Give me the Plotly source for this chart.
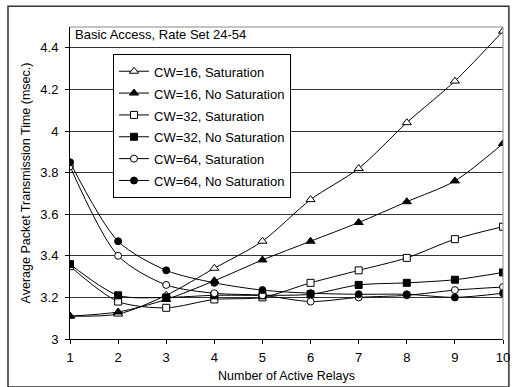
import plotly.graph_objects as go

relays = [1, 2, 3, 4, 5, 6, 7, 8, 9, 10]

cw16_sat = [3.11, 3.12, 3.21, 3.34, 3.47, 3.67, 3.82, 4.04, 4.24, 4.48]
cw16_nosat = [3.11, 3.13, 3.19, 3.28, 3.38, 3.47, 3.56, 3.66, 3.76, 3.94]
cw32_sat = [3.35, 3.18, 3.15, 3.19, 3.20, 3.27, 3.33, 3.39, 3.48, 3.54]
cw32_nosat = [3.36, 3.21, 3.20, 3.21, 3.21, 3.215, 3.26, 3.27, 3.285, 3.32]
cw64_sat = [3.83, 3.40, 3.26, 3.22, 3.21, 3.18, 3.20, 3.21, 3.235, 3.25]
cw64_nosat = [3.85, 3.47, 3.33, 3.27, 3.235, 3.22, 3.215, 3.215, 3.20, 3.22]

series = [
    ("CW=16, Saturation", cw16_sat, "triangle-up-open"),
    ("CW=16, No Saturation", cw16_nosat, "triangle-up"),
    ("CW=32, Saturation", cw32_sat, "square-open"),
    ("CW=32, No Saturation", cw32_nosat, "square"),
    ("CW=64, Saturation", cw64_sat, "circle-open"),
    ("CW=64, No Saturation", cw64_nosat, "circle"),
]

y_ticks = [3, 3.2, 3.4, 3.6, 3.8, 4, 4.2, 4.4]
y_tick_text = ["3", "3.2", "3.4", "3.6", "3.8", "4", "4.2", "4.4"]

FONT = "Liberation Sans, Arial, sans-serif"

fig = go.Figure()
for name, vals, sym in series:
    is_open = sym.endswith("-open")
    fig.add_trace(go.Scatter(
        x=relays, y=vals, name='<span style="font-size:13px">' + name + '</span>',
        mode="lines+markers",
        line=dict(color="black", width=1, shape="spline", smoothing=0.8),
        marker=dict(
            symbol=sym.replace("-open", "") if is_open else sym,
            size=8 if "triangle" in sym else 7,
            color="white" if is_open else "black",
            line=dict(color="black", width=1),
        ),
    ))

fig.update_layout(
    width=517, height=387,
    margin=dict(l=70, r=7, t=27, b=48),
    paper_bgcolor="white", plot_bgcolor="white",
    font=dict(family=FONT, size=13, color="black"),
    showlegend=True,
    legend=dict(
        x=0.0993, y=0.9125, xanchor="left", yanchor="top",
        bgcolor="white", bordercolor="black", borderwidth=1,
        font=dict(family=FONT, size=14.5, color="black"),
        tracegroupgap=0,
    ),
    xaxis=dict(
        range=[1, 10], tickvals=relays, ticks="outside", ticklen=4,
        tickcolor="black", showline=True, linecolor="black", linewidth=1,
        mirror=False, showgrid=False, zeroline=False,
        title=dict(text="Number of Active Relays", font=dict(size=12.5), standoff=7),
        tickfont=dict(size=13), ticklabelstandoff=2, ticklabeloverflow="allow",
    ),
    yaxis=dict(
        range=[3, 4.5], tickvals=y_ticks, ticktext=y_tick_text,
        ticks="outside", ticklen=4, tickcolor="black",
        showline=True, linecolor="black", linewidth=1,
        showgrid=True, gridcolor="#333333", gridwidth=1, zeroline=False,
        title=dict(text="Average Packet Transmission Time (msec.)",
                   font=dict(size=12.5), standoff=6),
        tickfont=dict(size=13), ticklabelstandoff=4,
    ),
    shapes=[
        # gray border on top and right of plotting area
        dict(type="line", xref="paper", yref="paper", x0=0, x1=1, y0=1, y1=1,
             line=dict(color="#888888", width=1)),
        dict(type="line", xref="paper", yref="paper", x0=1, x1=1, y0=0, y1=1,
             line=dict(color="#888888", width=1)),
        # outer frame around the chart
        dict(type="rect", xref="paper", yref="paper",
             x0=-0.1432, x1=1.0136, y0=-0.1542, y1=1.0667,
             line=dict(color="#333333", width=1.5), layer="below"),
    ],
    annotations=[
        dict(text="Basic Access, Rate Set 24-54", xref="paper", yref="paper",
             x=0.006, y=0.975, xanchor="left", yanchor="middle",
             showarrow=False, font=dict(size=13)),
    ],
)

fig.write_html("out.html")
